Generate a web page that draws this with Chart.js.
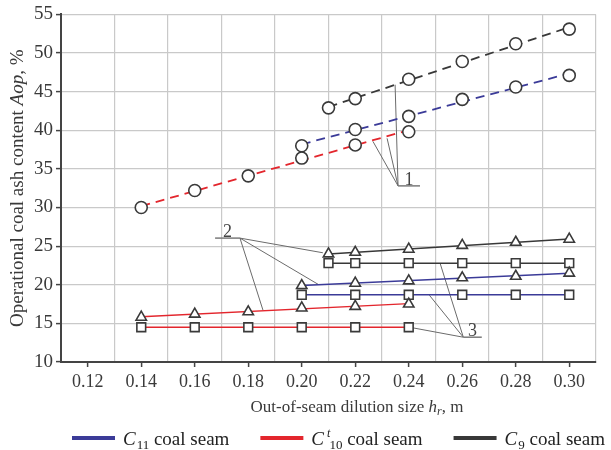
<!DOCTYPE html>
<html>
<head>
<meta charset="utf-8">
<script src="https://cdn.jsdelivr.net/npm/chart.js@4"></script>
<style>
  html, body { margin: 0; padding: 0; background: #fff; }
  #wrap { width: 611px; height: 450px; }
</style>
</head>
<body>
<div id="wrap"><canvas id="ash-chart"></canvas></div>
<script>
const serif = '"Liberation Serif", "DejaVu Serif", serif'

// out-of-seam dilution size, m
const sizeC11 = [0.20, 0.22, 0.24, 0.26, 0.28, 0.30]
const sizeC10 = [0.14, 0.16, 0.18, 0.20, 0.22, 0.24]
const sizeC9 = [0.21, 0.22, 0.24, 0.26, 0.28, 0.30]

// operational ash content, % (circles -> dashed trend)
const circC11 = [38.0, 40.1, 41.8, 44.0, 45.6, 47.1]
const circC10 = [30.0, 32.2, 34.1, 36.4, 38.1, 39.8]
const circC9 = [42.9, 44.1, 46.6, 48.9, 51.2, 53.1]

// triangles
const triC11 = [19.9, 20.2, 20.5, 20.9, 21.1, 21.5]
const triC10 = [15.8, 16.2, 16.5, 17.0, 17.2, 17.5]
const triC9 = [24.0, 24.2, 24.6, 25.1, 25.5, 25.9]

// squares
const sqC11 = [18.7, 18.7, 18.7, 18.7, 18.7, 18.7]
const sqC10 = [14.5, 14.5, 14.5, 14.5, 14.5, 14.5]
const sqC9 = [22.8, 22.8, 22.8, 22.8, 22.8, 22.8]

const xTickLabels = ['0.12', '0.14', '0.16', '0.18', '0.20', '0.22', '0.24', '0.26', '0.28', '0.30']
const yTickLabels = [10, 15, 20, 25, 30, 35, 40, 45, 50, 55]

// callouts 1, 2, 3 (data units): knee point, end of underline, targets
const callouts = [
  { label: '1', at: [0.2360, 32.8], bar: 0.2442, to: [[0.2349, 45.9], [0.2266, 38.57], [0.2319, 38.96]] },
  { label: '2', at: [0.1769, 26.04], bar: 0.1676, to: [[0.2079, 24.14], [0.2061, 20.06], [0.1855, 16.72]] },
  { label: '3', at: [0.2604, 13.21], bar: 0.2673, to: [[0.2517, 22.8], [0.2477, 18.65], [0.2411, 14.45]] },
]

const blue = '#3b3b98'
const red = '#e3262d'
const dark = '#383838'
const markerStroke = '#3a3a3a'

const pts = (xs, ys) => xs.map((x, i) => ({ x: x, y: ys[i] }))

// least-squares trend over the measured points
function trend(xs, ys) {
  const n = xs.length
  const mx = xs.reduce((a, b) => a + b, 0) / n
  const my = ys.reduce((a, b) => a + b, 0) / n
  let sxy = 0, sxx = 0
  xs.forEach((x, i) => { sxy += (x - mx) * (ys[i] - my); sxx += (x - mx) * (x - mx) })
  const k = sxy / sxx
  const x0 = xs[0], x1 = xs[n - 1]
  return [{ x: x0, y: my + k * (x0 - mx) }, { x: x1, y: my + k * (x1 - mx) }]
}

function markers(label, xs, ys, style, radius) {
  return {
    label: label,
    data: pts(xs, ys),
    showLine: false,
    pointStyle: style,
    pointRadius: radius,
    pointHoverRadius: radius,
    pointBorderColor: markerStroke,
    pointBackgroundColor: '#fff',
    pointBorderWidth: 1.6,
    order: 0
  }
}

function line(label, xs, ys, color, dashed) {
  return {
    label: label,
    data: trend(xs, ys),
    showLine: true,
    borderColor: color,
    borderWidth: dashed ? 1.8 : 1.5,
    borderDash: dashed ? [9, 6] : [],
    pointRadius: 0,
    order: 1
  }
}

const series = [
  ['C11 circles', sizeC11, circC11, blue, 'circle', true],
  ['C10 circles', sizeC10, circC10, red, 'circle', true],
  ['C9 circles', sizeC9, circC9, dark, 'circle', true],
  ['C11 triangles', sizeC11, triC11, blue, 'triangle', false],
  ['C10 triangles', sizeC10, triC10, red, 'triangle', false],
  ['C9 triangles', sizeC9, triC9, dark, 'triangle', false],
  ['C11 squares', sizeC11, sqC11, blue, 'rect', false],
  ['C10 squares', sizeC10, sqC10, red, 'rect', false],
  ['C9 squares', sizeC9, sqC9, dark, 'rect', false],
]

const datasets = []
series.forEach(s => {
  const r = s[4] === 'circle' ? 6 : (s[4] === 'rect' ? 6.2 : 6)
  datasets.push(markers(s[0], s[1], s[2], s[4], r))
})
series.forEach(s => datasets.push(line(s[0] + ' trend', s[1], s[2], s[3], s[5])))

const hundredths = v => Math.round(v * 100)
const isLabelled = v => xTickLabels.indexOf((hundredths(v) / 100).toFixed(2)) >= 0

function drawRuns(ctx, runs, x, y, align) {
  let w = 0
  runs.forEach(r => { ctx.font = r.font; r.w = ctx.measureText(r.text).width; w += r.w + (r.dx || 0) })
  let cx = align === 'center' ? x - w / 2 : x
  runs.forEach(r => {
    ctx.font = r.font
    ctx.fillText(r.text, cx + (r.dx || 0), y + (r.dy || 0))
    cx += r.w + (r.dx || 0)
  })
  return w
}

const calloutPlugin = {
  id: 'callouts',
  beforeDatasetsDraw(chart) {
    const ctx = chart.ctx
    const xs = chart.scales.x, ys = chart.scales.y
    ctx.save()
    callouts.forEach(c => {
      const px = xs.getPixelForValue(c.at[0]), py = ys.getPixelForValue(c.at[1])
      const bx = xs.getPixelForValue(c.bar)
      ctx.strokeStyle = '#6b6b6b'
      ctx.lineWidth = 1
      c.to.forEach(t => {
        ctx.beginPath()
        ctx.moveTo(px, py)
        ctx.lineTo(xs.getPixelForValue(t[0]), ys.getPixelForValue(t[1]))
        ctx.stroke()
      })
      ctx.strokeStyle = '#7a7a7a'
      ctx.lineWidth = 1.5
      ctx.beginPath()
      ctx.moveTo(px, py)
      ctx.lineTo(bx, py)
      ctx.stroke()
      ctx.fillStyle = '#444'
      ctx.font = '18px ' + serif
      ctx.textAlign = 'center'
      ctx.textBaseline = 'alphabetic'
      ctx.fillText(c.label, (px + bx) / 2, py - 1)
    })
    ctx.restore()
  }
}

const textPlugin = {
  id: 'titlesAndLegend',
  afterDraw(chart) {
    const ctx = chart.ctx
    const area = chart.chartArea
    ctx.save()
    ctx.fillStyle = '#3a3a3a'
    ctx.textAlign = 'left'
    ctx.textBaseline = 'alphabetic'

    // y title
    ctx.save()
    ctx.translate(23, (area.top + area.bottom) / 2)
    ctx.rotate(-Math.PI / 2)
    drawRuns(ctx, [
      { text: 'Operational coal ash content ', font: '19px ' + serif },
      { text: 'Aop', font: 'italic 19px ' + serif },
      { text: ', %', font: '19px ' + serif },
    ], 0, 0, 'center')
    ctx.restore()

    // x title
    drawRuns(ctx, [
      { text: 'Out-of-seam dilution size ', font: '17px ' + serif },
      { text: 'h', font: 'italic 17px ' + serif },
      { text: 'r', font: 'italic 12px ' + serif, dy: 3 },
      { text: ', m', font: '17px ' + serif },
    ], 357, 412, 'center')

    // legend
    ctx.fillStyle = '#222'
    const legend = [
      [blue, [{ text: 'C', font: 'italic 19px ' + serif }, { text: '11', font: '13px ' + serif, dy: 4, dx: 1 }]],
      [red, [{ text: 'C', font: 'italic 19px ' + serif }, { text: 't', font: 'italic 12px ' + serif, dy: -8, dx: 3 },
             { text: '10', font: '13px ' + serif, dy: 4, dx: -1 }]],
      [dark, [{ text: 'C', font: 'italic 19px ' + serif }, { text: '9', font: '13px ' + serif, dy: 4, dx: 1 }]],
    ]
    let lx = 72
    const ly = 438
    legend.forEach(item => {
      ctx.strokeStyle = item[0]
      ctx.lineWidth = 4
      ctx.beginPath()
      ctx.moveTo(lx, ly)
      ctx.lineTo(lx + 43, ly)
      ctx.stroke()
      const runs = item[1].concat([{ text: ' coal seam', font: '19px ' + serif }])
      const w = drawRuns(ctx, runs, lx + 51, ly + 7, 'left')
      lx += 51 + w + 31
    })
    ctx.restore()
  }
}

const ashChart = new Chart(document.getElementById('ash-chart'), {
  type: 'scatter',
  data: { datasets: datasets },
  plugins: [calloutPlugin, textPlugin],
  options: {
    responsive: true,
    maintainAspectRatio: false,
    animation: false,
    layout: { padding: { top: 12, right: 15, left: 0, bottom: 0 } },
    plugins: {
      legend: { display: false },
      tooltip: { enabled: false }
    },
    scales: {
      x: {
        type: 'linear',
        min: 0.11,
        max: 0.31,
        afterFit: s => { s.height = 88 },
        border: { display: true, color: '#444', width: 2 },
        grid: {
          color: c => (c.tick && !isLabelled(c.tick.value)) ? '#c9c9c9' : 'rgba(0,0,0,0)',
          tickColor: c => (c.tick && isLabelled(c.tick.value)) ? '#444' : 'rgba(0,0,0,0)',
          lineWidth: 1.2,
          tickLength: 5,
          tickWidth: 1.5
        },
        ticks: {
          stepSize: 0.01,
          autoSkip: false,
          maxRotation: 0,
          padding: 4,
          color: '#3a3a3a',
          font: { family: serif, size: 18 },
          callback: v => isLabelled(v) ? (hundredths(v) / 100).toFixed(2) : ''
        }
      },
      y: {
        min: yTickLabels[0],
        max: yTickLabels[yTickLabels.length - 1],
        afterFit: s => { s.width = 61 },
        border: { display: true, color: '#444', width: 2 },
        grid: { color: '#c9c9c9', lineWidth: 1.2, tickColor: '#444', tickLength: 5, tickWidth: 1.5 },
        ticks: {
          stepSize: 5,
          padding: 3,
          color: '#3a3a3a',
          font: { family: serif, size: 19 }
        }
      }
    }
  }
})
</script>
</body>
</html>
